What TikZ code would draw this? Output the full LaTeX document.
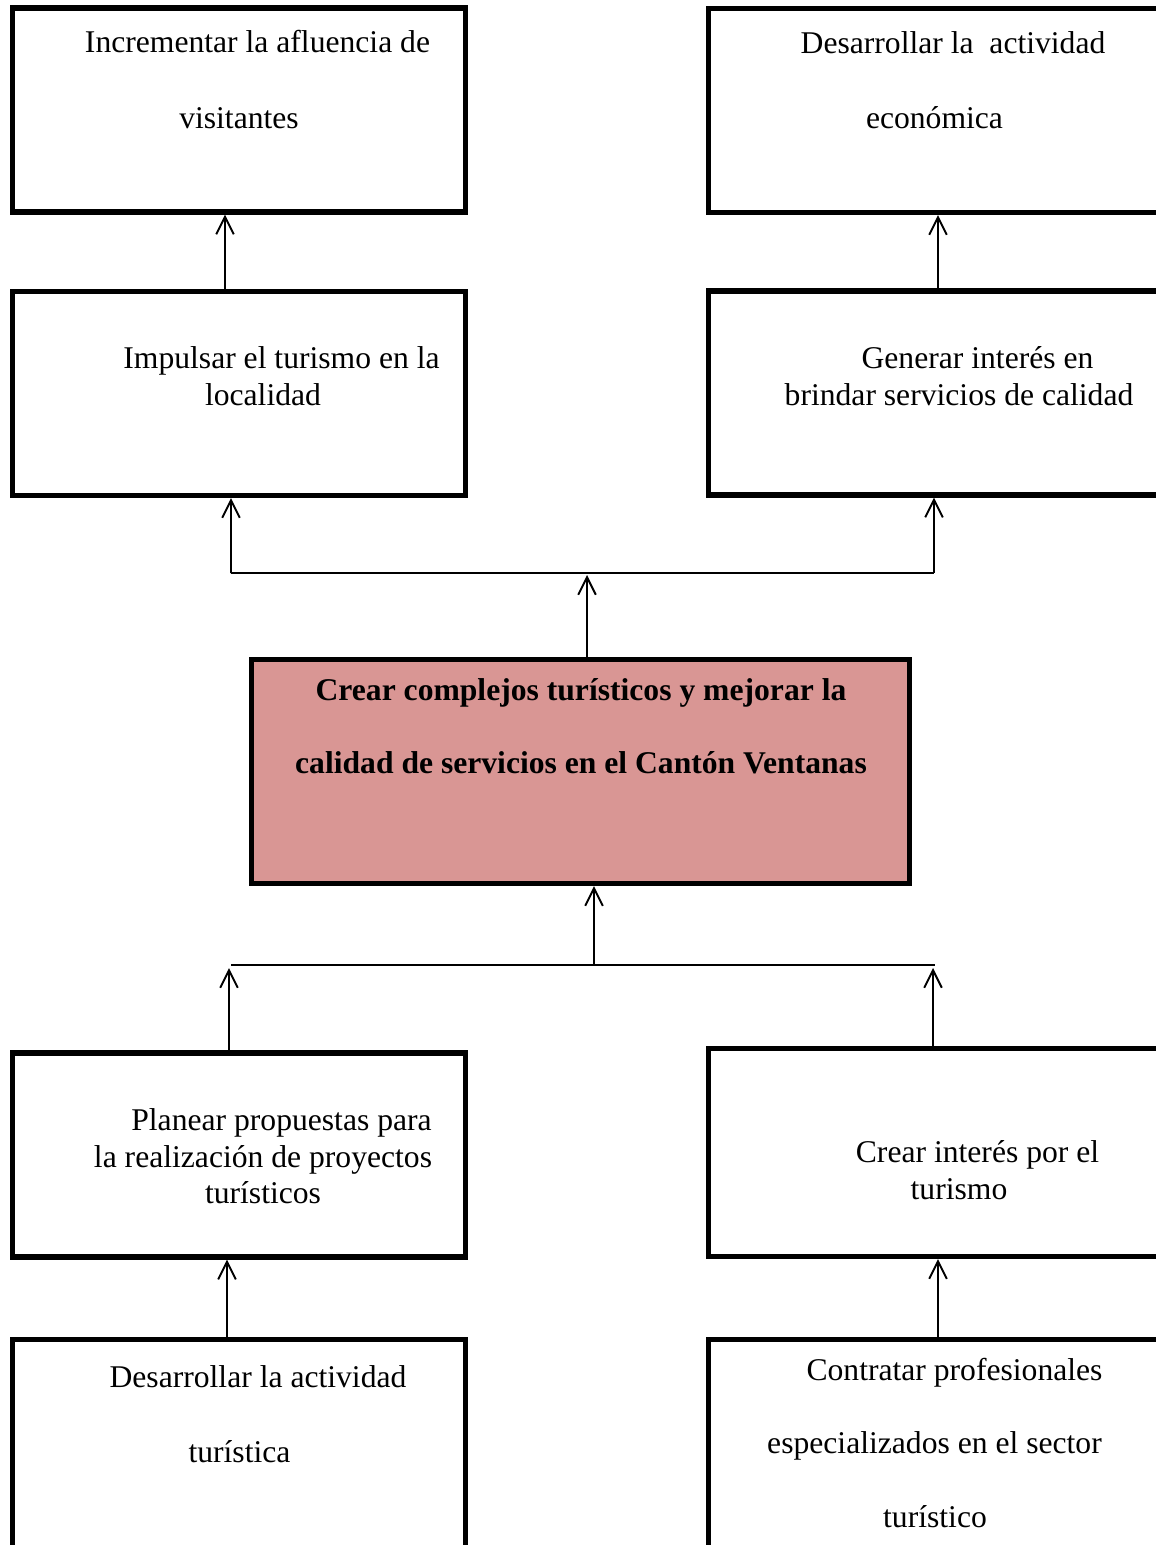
\documentclass[tikz,border=0pt]{standalone}
\usepackage{fontspec}
\setmainfont{Liberation Serif}
\usetikzlibrary{arrows.meta}
\definecolor{boxrose}{HTML}{D99694}

\begin{document}
\begin{tikzpicture}[x=0.02cm, y=-0.02cm,
  goal/.style={draw, line width=3pt, minimum width=9.06cm, minimum height=4.08cm, inner sep=0pt},
  txt/.style={anchor=base, inner sep=0pt, font=\fontsize{18}{21.6}\selectfont},
  joinline/.style={line width=1.1pt},
  uparrow/.style={joinline, -{Straight Barb[length=10pt,width=10pt]}}]
\useasboundingbox (0,0) rectangle (1156,1545);
\clip (0,0) rectangle (1156,1545);
% boxes
\node[goal] (incrementar) at (239,110) {};
\node[goal] (economica) at (935,110.5) {};
\node[goal] (impulsar) at (239,393.5) {};
\node[goal] (generar) at (935,393) {};
\node[goal, fill=boxrose, minimum width=13.16cm, minimum height=4.48cm] (crear) at (580.5,771.5) {};
\node[goal] (planear) at (239,1155) {};
\node[goal, minimum height=4.16cm] (interes) at (935,1152.5) {};
\node[goal, minimum height=4.6cm] (turistica) at (239,1454.5) {};
\node[goal, minimum height=4.6cm] (contratar) at (935,1454.5) {};
% texts
\node[txt] (incrementar1) at (257.5,52) {Incrementar la afluencia de};
\node[txt] (incrementar2) at (239,128) {visitantes};
\node[txt] (economica1) at (953,53) {Desarrollar la\ \ actividad};
\node[txt] (economica2) at (934.5,128) {económica};
\node[txt] (impulsar1) at (281.5,368) {Impulsar el turismo en la};
\node[txt] (impulsar2) at (263,405) {localidad};
\node[txt] (generar1) at (977.5,368) {Generar interés en};
\node[txt] (generar2) at (959,405) {brindar servicios de calidad};
\node[txt, font=\fontsize{18}{21.6}\selectfont\bfseries] (crear1) at (581,700) {Crear complejos turísticos y mejorar la};
\node[txt, font=\fontsize{18}{21.6}\selectfont\bfseries] (crear2) at (581,773) {calidad de servicios en el Cantón Ventanas};
\node[txt] (planear1) at (281.5,1130) {Planear propuestas para};
\node[txt] (planear2) at (263,1167) {la realización de proyectos};
\node[txt] (planear3) at (263,1203) {turísticos};
\node[txt] (interes1) at (977.5,1162) {Crear interés por el};
\node[txt] (interes2) at (959,1199) {turismo};
\node[txt] (turistica1) at (258,1387) {Desarrollar la actividad};
\node[txt] (turistica2) at (239.5,1462) {turística};
\node[txt] (contratar1) at (954.5,1380) {Contratar profesionales};
\node[txt] (contratar2) at (934.5,1453) {especializados en el sector};
\node[txt] (contratar3) at (935,1527) {turístico};
% arrows top
\draw[uparrow] ([xshift=-0.28cm]impulsar.north) -- ([xshift=-0.28cm]incrementar.south);
\draw[uparrow] ([xshift=0.06cm]generar.north) -- ([xshift=0.06cm]economica.south);
% upper branch
\coordinate (upjoin) at (587,575);
\coordinate (upleft) at (231,573);
\coordinate (upright) at (934,573);
\draw[uparrow] ([xshift=0.13cm]crear.north) -- (upjoin);
\draw[joinline] (upleft) -- (upright);
\draw[uparrow] (upleft) -- ([xshift=-0.16cm]impulsar.south);
\draw[uparrow] (upright) -- ([xshift=-0.02cm]generar.south);
% lower branch
\coordinate (lowjoin) at (594,965);
\coordinate (lowleft) at (231,965);
\coordinate (lowright) at (935,965);
\coordinate (lowlefttip) at (229,968);
\coordinate (lowrighttip) at (933,968);
\draw[joinline] (lowleft) -- (lowright);
\draw[uparrow] (lowjoin) -- ([xshift=0.27cm]crear.south);
\draw[uparrow] ([xshift=-0.2cm]planear.north) -- (lowlefttip);
\draw[uparrow] ([xshift=-0.04cm]interes.north) -- (lowrighttip);
% arrows bottom
\draw[uparrow] ([xshift=-0.24cm]turistica.north) -- ([xshift=-0.24cm]planear.south);
\draw[uparrow] ([xshift=0.06cm]contratar.north) -- ([xshift=0.06cm]interes.south);
\end{tikzpicture}
\end{document}
